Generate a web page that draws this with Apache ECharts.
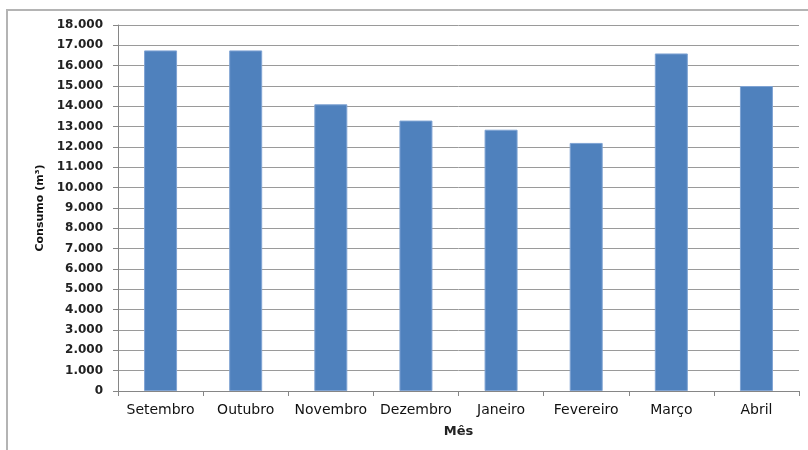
<!DOCTYPE html>
<html>
<head>
<meta charset="utf-8">
<script src="https://cdn.jsdelivr.net/npm/echarts@6/dist/echarts.min.js"></script>
<style>
  html, body { margin: 0; padding: 0; background: #fff; }
  #chart { width: 808px; height: 450px; }
</style>
</head>
<body>
<div id="chart"></div>
<script>
// Consumo mensal (m³)
var meses = ['Setembro', 'Outubro', 'Novembro', 'Dezembro', 'Janeiro', 'Fevereiro', 'Março', 'Abril'];
var consumo = [16750, 16750, 14100, 13300, 12850, 12200, 16600, 15000];
var yMin = 0;
var yMax = 18000;
var yPasso = 1000;

// 18000 -> "18.000"
function fmtMilhar(v) {
    return String(v).replace(/\B(?=(\d{3})+(?!\d))/g, '.');
}

var chart = echarts.init(document.getElementById('chart'));

var option = {
    backgroundColor: '#fff',
    animation: false,
    graphic: [{
        type: 'rect',
        shape: { x: 7, y: 10, width: 900, height: 500 },
        style: { fill: 'none', stroke: '#b4b4b4', lineWidth: 2 },
        silent: true
    }],
    grid: {
        left: 118,
        right: 9,
        top: 25,
        bottom: 59
    },
    xAxis: {
        type: 'category',
        data: meses,
        name: 'Mês',
        nameLocation: 'middle',
        nameGap: 34,
        nameTextStyle: {
            fontFamily: 'DejaVu Sans', fontSize: 13, fontWeight: 'bold', color: '#222'
        },
        axisLine: { lineStyle: { color: '#868686', width: 1 } },
        axisTick: { show: true, length: 5, lineStyle: { color: '#868686' } },
        axisLabel: {
            interval: 0,
            margin: 12,
            fontFamily: 'DejaVu Sans', fontSize: 14, color: '#111'
        }
    },
    yAxis: {
        type: 'value',
        min: yMin,
        max: yMax,
        interval: yPasso,
        name: 'Consumo (m³)',
        nameLocation: 'middle',
        nameGap: 69,
        nameTextStyle: {
            fontFamily: 'DejaVu Sans', fontSize: 11, fontWeight: 'bold', color: '#111'
        },
        axisLine: { show: true, lineStyle: { color: '#868686', width: 1 } },
        axisTick: { show: true, length: 5, lineStyle: { color: '#868686' } },
        axisLabel: {
            margin: 15,
            fontFamily: 'DejaVu Sans', fontSize: 12, fontWeight: 'bold', color: '#222',
            formatter: function (v) { return fmtMilhar(v); }
        },
        splitLine: { lineStyle: { color: '#9a9a9a', width: 1 } }
    },
    series: [{
        name: 'Consumo',
        type: 'bar',
        data: consumo,
        barWidth: 33,
        itemStyle: {
            color: '#4f81bd',
            borderColor: '#7fa3d3',
            borderWidth: 1
        }
    }]
};

chart.setOption(option);
</script>
</body>
</html>
